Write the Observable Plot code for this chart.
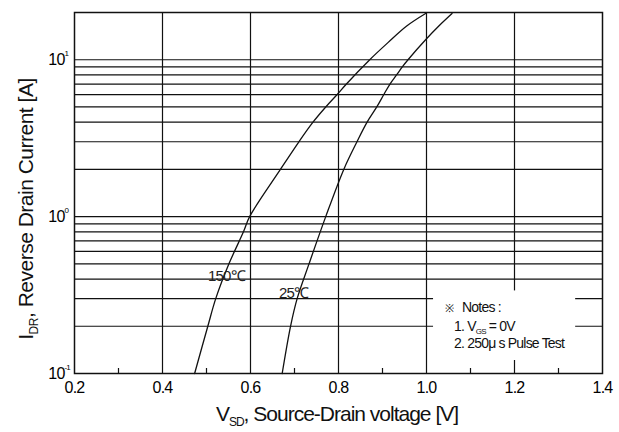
<!DOCTYPE html>
<html><head><meta charset="utf-8">
<script src="https://cdn.jsdelivr.net/npm/d3@7"></script>
<script src="https://cdn.jsdelivr.net/npm/@observablehq/plot@0.6"></script>
<style>
body{margin:0;background:#fff}
#chart svg text{letter-spacing:-0.8px}
</style>
</head><body><div id="chart"></div>
<script>
// ---- data ----
const xTicks = [0.2, 0.4, 0.6, 0.8, 1.0, 1.2, 1.4];
const xGrid = [0.4, 0.6, 0.8, 1.0, 1.2];
const xMinor = [0.3, 0.5, 0.7, 0.9, 1.1, 1.3];
const yDecades = [0.1, 1, 10];
const yExponents = ["-1", "0", "1"];
const yGrid = [0.2, 0.3, 0.4, 0.5, 0.6, 0.7, 0.8, 0.9, 1, 2, 3, 4, 5, 6, 7, 8, 9, 10];

const v150 = [0.473, 0.503, 0.521, 0.551, 0.584, 0.598, 0.668, 0.710, 0.742, 0.771, 0.797, 0.818, 0.871, 0.913, 0.955, 0.998];
const i150 = [0.1, 0.2, 0.3, 0.5, 0.8, 1.0, 2, 3, 4, 5, 6, 7, 10, 12.9, 16.4, 19.7];
const v25 = [0.672, 0.691, 0.706, 0.733, 0.771, 0.812, 0.842, 0.865, 0.887, 0.903, 0.917, 0.932, 0.945, 0.958, 0.999, 1.028, 1.058];
const i25 = [0.1, 0.2, 0.3, 0.5, 1.0, 2, 3, 4, 5, 6, 7, 8, 9, 10, 13.5, 16.4, 19.7];

const curveLabels = ["150℃", "25℃"];
const labelV = [0.545, 0.698];
const labelI = [0.418, 0.324];

const notesMark = "※";
const notesLines = ["Notes :", "1. V", "2. 250μ s Pulse Test"];
// notes box extent (data units)
const notesBox = {x1: 1.016, x2: 1.339, y1: 0.121, y2: 0.336};

// ---- build ----
const s150 = v150.map((v, k) => ({v, i: i150[k]}));
const s25 = v25.map((v, k) => ({v, i: i25[k]}));
const labels = curveLabels.map((t, k) => ({t, v: labelV[k], i: labelI[k]}));

const plot = Plot.plot({
  width: 619, height: 432,
  marginLeft: 74, marginRight: 17, marginTop: 12, marginBottom: 59,
  style: {fontFamily: "'Liberation Sans', Arial, sans-serif", background: "#fff", color: "#000"},
  x: {domain: [0.2, 1.4], label: null},
  y: {type: "log", domain: [0.1, 20], label: null},
  marks: [
    Plot.ruleY(yGrid, {stroke: "#111", strokeWidth: 1.2}),
    Plot.ruleX(xGrid, {stroke: "#111", strokeWidth: 1.2}),
    Plot.axisX(xMinor, {tickSize: -5, tickFormat: () => "", stroke: "#111", strokeWidth: 1.2}),
    Plot.rect([notesBox], {x1: "x1", x2: "x2", y1: "y1", y2: "y2", fill: "#fff"}),
    Plot.line(s150, {x: "v", y: "i", curve: "catmull-rom", stroke: "#111", strokeWidth: 1.3}),
    Plot.line(s25, {x: "v", y: "i", curve: "catmull-rom", stroke: "#111", strokeWidth: 1.3}),
    Plot.text(labels, {x: "v", y: "i", text: "t", fontSize: 15, fill: "#222"}),
    Plot.axisX(xTicks, {tickSize: 0, tickPadding: 8, fontSize: 16, tickFormat: d3.format(".1f")}),
    Plot.axisY(yDecades, {tickSize: 0, tickPadding: 10, fontSize: 16, tickFormat: () => "10"}),
    Plot.text(yExponents, {frameAnchor: "left", y: (d, k) => yDecades[k], text: d => d, dx: -10, dy: -6, textAnchor: "start", fontSize: 8}),
    Plot.frame({stroke: "#111", strokeWidth: 1.5})
  ]
});
document.getElementById("chart").appendChild(plot);

const svg = d3.select(plot);
const X = plot.scale("x"), Y = plot.scale("y");

// axis titles with subscripts
const xt = svg.append("text").attr("x", 337).attr("y", 421).attr("text-anchor", "middle")
  .attr("font-size", 21).attr("fill", "#111").style("letter-spacing", "-1px");
xt.append("tspan").text("V");
xt.append("tspan").attr("font-size", 12).attr("dy", 5).text("SD");
xt.append("tspan").attr("dy", -5).text(", Source-Drain voltage [V]");

const yt = svg.append("text").attr("transform", "translate(33,209) rotate(-90)").attr("text-anchor", "middle")
  .attr("font-size", 21).attr("fill", "#111").style("letter-spacing", "-0.5px");
yt.append("tspan").text("I");
yt.append("tspan").attr("font-size", 12).attr("dy", 5).text("DR");
yt.append("tspan").attr("dy", -5).text(", Reverse Drain Current [A]");

// notes
const nx = X.apply(notesBox.x1), ny = Y.apply(notesBox.y2);
const ng = svg.append("g").attr("font-size", 14).attr("fill", "#111").attr("text-anchor", "start")
  .style("letter-spacing", "-0.6px");
ng.append("text").attr("x", nx + 12).attr("y", ny + 22).attr("font-size", 11).text(notesMark);
ng.append("text").attr("x", nx + 29).attr("y", ny + 22).text(notesLines[0]);
const n1 = ng.append("text").attr("x", nx + 21).attr("y", ny + 41);
n1.append("tspan").text(notesLines[1]);
n1.append("tspan").attr("font-size", 8).attr("dy", 3).text("GS");
n1.append("tspan").attr("dy", -3).text(" = 0V");
ng.append("text").attr("x", nx + 21).attr("y", ny + 58).text(notesLines[2]);
</script>
</body></html>
